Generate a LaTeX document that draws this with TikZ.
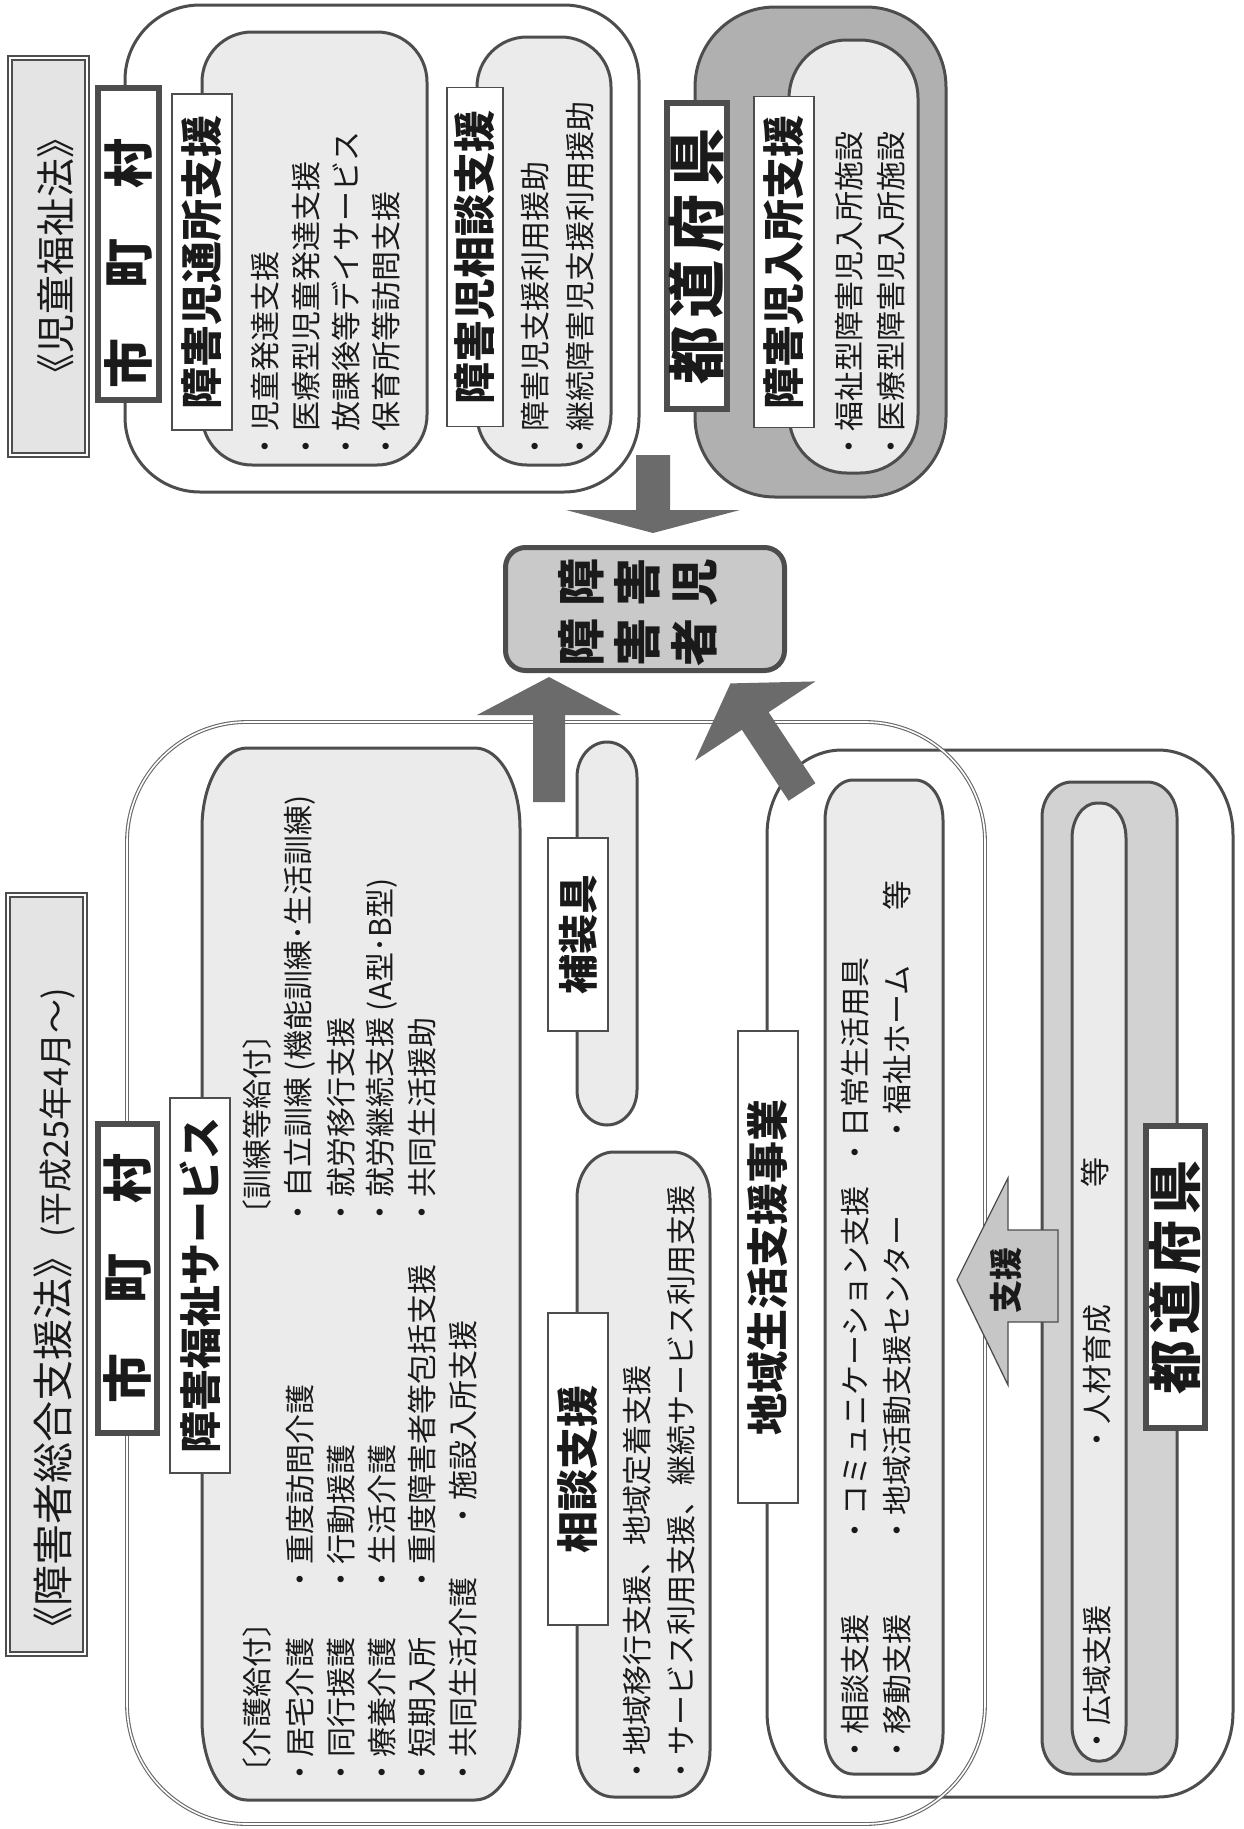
\documentclass[tikz,border=0pt]{standalone}
\usepackage{fontspec}
\setmainfont{Noto Sans CJK JP}
\definecolor{dk}{HTML}{4D4D4D}
\definecolor{lt}{HTML}{EBEBEB}
\definecolor{md}{HTML}{B0B0B0}
\definecolor{arr}{HTML}{6B6B6B}
\definecolor{pbox}{HTML}{C9C9C9}
\definecolor{sien}{HTML}{C6C6C6}
\definecolor{ttl}{HTML}{E4E4E4}
\definecolor{gbox}{HTML}{D2D2D2}
\definecolor{txt}{HTML}{1A1A1A}
% rounded rectangle with elliptical corners: options, x1, y1, x2, y2, rx, ry
\newcommand\rrect[7]{%
 \path[#1] ({#2+#6},#3) -- ({#4-#6},#3)
  .. controls ({#4-#6+0.5523*#6},#3) and (#4,{#3+#7-0.5523*#7}) .. (#4,{#3+#7})
  -- (#4,{#5-#7})
  .. controls (#4,{#5-#7+0.5523*#7}) and ({#4-#6+0.5523*#6},#5) .. ({#4-#6},#5)
  -- ({#2+#6},#5)
  .. controls ({#2+#6-0.5523*#6},#5) and (#2,{#5-#7+0.5523*#7}) .. (#2,{#5-#7})
  -- (#2,{#3+#7})
  .. controls (#2,{#3+#7-0.5523*#7}) and ({#2+#6-0.5523*#6},#3) .. ({#2+#6},#3) -- cycle;}
\tikzset{
 box/.style={draw=dk, line width=3pt},
 item/.style={rotate=90, anchor=west, inner sep=0pt, text=txt, font=\fontsize{30}{30}\selectfont},
 ctr/.style={rotate=90, inner sep=0pt, text=txt},
 lbl/.style={rotate=90, draw=dk, line width=1.5pt, fill=white, inner sep=0pt, text=txt, font=\bfseries\fontsize{42}{42}\selectfont},
 biglbl/.style={rotate=90, draw=dk, line width=6pt, fill=white, inner sep=0pt, text=txt, font=\bfseries\fontsize{50}{50}\selectfont},
 ttlbox/.style={draw=dk, line width=2.4pt, double=white, double distance=1.4pt, fill=ttl},
 dblbox/.style={draw=dk!85, line width=1.1pt, double=white, double distance=1.6pt},
 fat/.style={fill=arr, draw=none},
}
\begin{document}
\begin{tikzpicture}[x=1pt,y=-1pt]
\useasboundingbox[fill=white] (0,0) rectangle (1244,1829);

% ================= 児童福祉法 =================
\draw[ttlbox] (10,58) rectangle (87,455);
\node[ctr, font=\fontsize{39}{39}\selectfont] (jt) at (56,256) {《児童福祉法》};

\rrect{box, fill=white}{125}{5}{639}{492}{75}{75}
\rrect{box, fill=lt}{202}{32}{427}{465}{50}{50}
\rrect{box, fill=lt}{477}{37}{611}{465}{50}{50}

\node[biglbl, minimum width=312pt, minimum height=61pt] (scbox1) at (128.5,244) {};
\node[ctr, font=\bfseries\fontsize{50}{50}\selectfont] (sc1) at (128.5,263) {市　町　村};

\node[lbl, minimum width=336pt, minimum height=60pt] (ltsusho) at (202,262) {障害児通所支援};
\node[item] (t1) at (265,462) {・児童発達支援};
\node[item] (t2) at (306,462) {・医療型児童発達支援};
\node[item] (t3) at (346,462) {・放課後等デイサービス};
\node[item] (t4) at (386,462) {・保育所等訪問支援};

\node[lbl, minimum width=339pt, minimum height=56pt] (lsodan) at (475,257) {障害児相談支援};
\node[item] (t5) at (535,462) {・障害児支援利用援助};
\node[item] (t6) at (580,462) {・継続障害児支援利用援助};

\rrect{box, fill=md}{695}{7}{946}{497}{80}{80}
\rrect{box, fill=lt}{789}{40}{918}{473}{58}{58}
\node[biglbl, minimum width=306pt, minimum height=60pt, font=\bfseries\fontsize{58}{58}\selectfont] (td1) at (697,256) {都\kern8pt 道\kern8pt 府\kern8pt 県};
\node[lbl, minimum width=331pt, minimum height=60pt] (lnyusho) at (784,262) {障害児入所支援};
\node[item] (t7) at (849,462) {・福祉型障害児入所施設};
\node[item] (t8) at (891,462) {・医療型障害児入所施設};

% ================= 障害者・障害児 =================
\node[draw=dk, line width=5pt, fill=pbox, rounded corners=20pt, minimum width=279pt, minimum height=123pt] (person) at (645,609) {};
\node[ctr, font=\bfseries\fontsize{48}{52}\selectfont] (persontext) at (643,612)
 {\begin{tabular}{@{}c@{\hspace{12pt}}c@{}}障&障\\害&害\\者&児\end{tabular}};

% ================= 障害者総合支援法 =================
\draw[ttlbox] (8,895) rectangle (85,1654);
\node[item, font=\fontsize{41}{41}\selectfont] (st) at (54,1648) {《障害者総合支援法》{\fontsize{34}{34}\selectfont (平成25年4月～)}};

% 地域生活支援事業 + 都道府県 frame
\rrect{box, fill=white}{767}{750}{1233}{1797}{75}{85}
\rrect{box, fill=lt}{825}{780}{943}{1774}{28}{40}
\rrect{box, fill=gbox}{1042}{782}{1177}{1774}{30}{35}
\rrect{box, fill=lt}{1072}{803}{1126}{1761}{25}{35}

% 市町村 inner boxes
\rrect{box, fill=lt}{202}{748}{520}{1800}{45}{80}
\rrect{box, fill=lt}{577}{742}{637}{1125}{30}{35}
\rrect{box, fill=lt}{577}{1152}{710}{1797}{37}{46}

% big double frame
\rrect{dblbox}{127}{722}{985}{1824}{120}{120}

\node[biglbl, minimum width=309pt, minimum height=59pt] (sc2) at (127.5,1278.5) {市　町　村};
\node[lbl, minimum width=375pt, minimum height=60pt] (lfukushi) at (200,1285.5) {障害福祉サービス};

\node[item] (a1) at (257,1788) {〔介護給付〕};
\node[item] (a2) at (300,1788) {・居宅介護};
\node[item] (a3) at (341,1788) {・同行援護};
\node[item] (a4) at (382,1788) {・療養介護};
\node[item] (a5) at (422,1788) {・短期入所};
\node[item] (a6) at (463,1788) {・共同生活介護};
\node[item] (b2) at (300,1595) {・重度訪問介護};
\node[item] (b3) at (341,1595) {・行動援護};
\node[item] (b4) at (382,1595) {・生活介護};
\node[item] (b5) at (422,1595) {・重度障害者等包括支援};
\node[item] (b6) at (463,1531) {・施設入所支援};
\node[item] (c1) at (257,1230) {〔訓練等給付〕};
\node[item] (c2) at (300,1228) {・自立訓練 (機能訓練･生活訓練)};
\node[item] (c3) at (341,1228) {・就労移行支援};
\node[item] (c4) at (382,1228) {・就労継続支援 (A型･B型)};
\node[item] (c5) at (422,1228) {・共同生活援助};

\node[lbl, minimum width=193pt, minimum height=60pt, font=\bfseries\fontsize{40}{40}\selectfont] (lhosogu) at (578,934.5) {補装具};
\node[lbl, minimum width=312pt, minimum height=60pt] (lsodan2) at (578,1469) {相談支援};
\node[item] (s1) at (637,1786) {・地域移行支援、地域定着支援};
\node[item] (s2) at (681,1786) {・サービス利用支援、継続サービス利用支援};

\node[lbl, minimum width=472pt, minimum height=60pt] (lchiiki) at (768,1267) {地域生活支援事業};
\node[item] (d1) at (855,1765) {・相談支援};
\node[item] (d2) at (855,1546) {・コミュニケーション支援};
\node[item] (d3) at (855,1168) {・日常生活用具};
\node[item] (e1) at (897,1765) {・移動支援};
\node[item] (e2) at (897,1546) {・地域活動支援センター};
\node[item] (e3) at (897,1145) {・福祉ホーム};
\node[ctr, font=\fontsize{30}{30}\selectfont] (e4) at (897,895) {等};

\node[item] (f1) at (1097,1756) {・広域支援};
\node[item] (f2) at (1097,1455) {・人材育成};
\node[ctr, font=\fontsize{30}{30}\selectfont] (f3) at (1095,1172) {等};
\node[biglbl, minimum width=302pt, minimum height=59pt, font=\bfseries\fontsize{54}{54}\selectfont] (td2) at (1175.5,1277) {都\kern6pt 道\kern6pt 府\kern6pt 県};

% 支援 arrow
\draw[fill=sien, draw=dk, line width=1.3pt] (957,1280) -- (1008,1178) -- (1008,1230) -- (1058,1230) -- (1058,1322) -- (1008,1322) -- (1008,1385) -- cycle;
\node[ctr, font=\bfseries\fontsize{33}{33}\selectfont] (sienlbl) at (1006,1280) {支援};

% ================= fat arrows to 障害者 =================
\fill[fat] (636,455) -- (670,455) -- (670,510) -- (740,510) -- (653,533) -- (566,510) -- (636,510) -- cycle;
\fill[fat] (533,802) -- (565,802) -- (565,715) -- (621,715) -- (549,677) -- (477,715) -- (533,715) -- cycle;
\fill[fat] (730.5,683.4) -- (815.4,681.4) -- (768.6,712.2) -- (815.4,783.2) -- (788.6,800.8) -- (741.9,729.8) -- (695.1,760.6) -- cycle;
\end{tikzpicture}
\end{document}
